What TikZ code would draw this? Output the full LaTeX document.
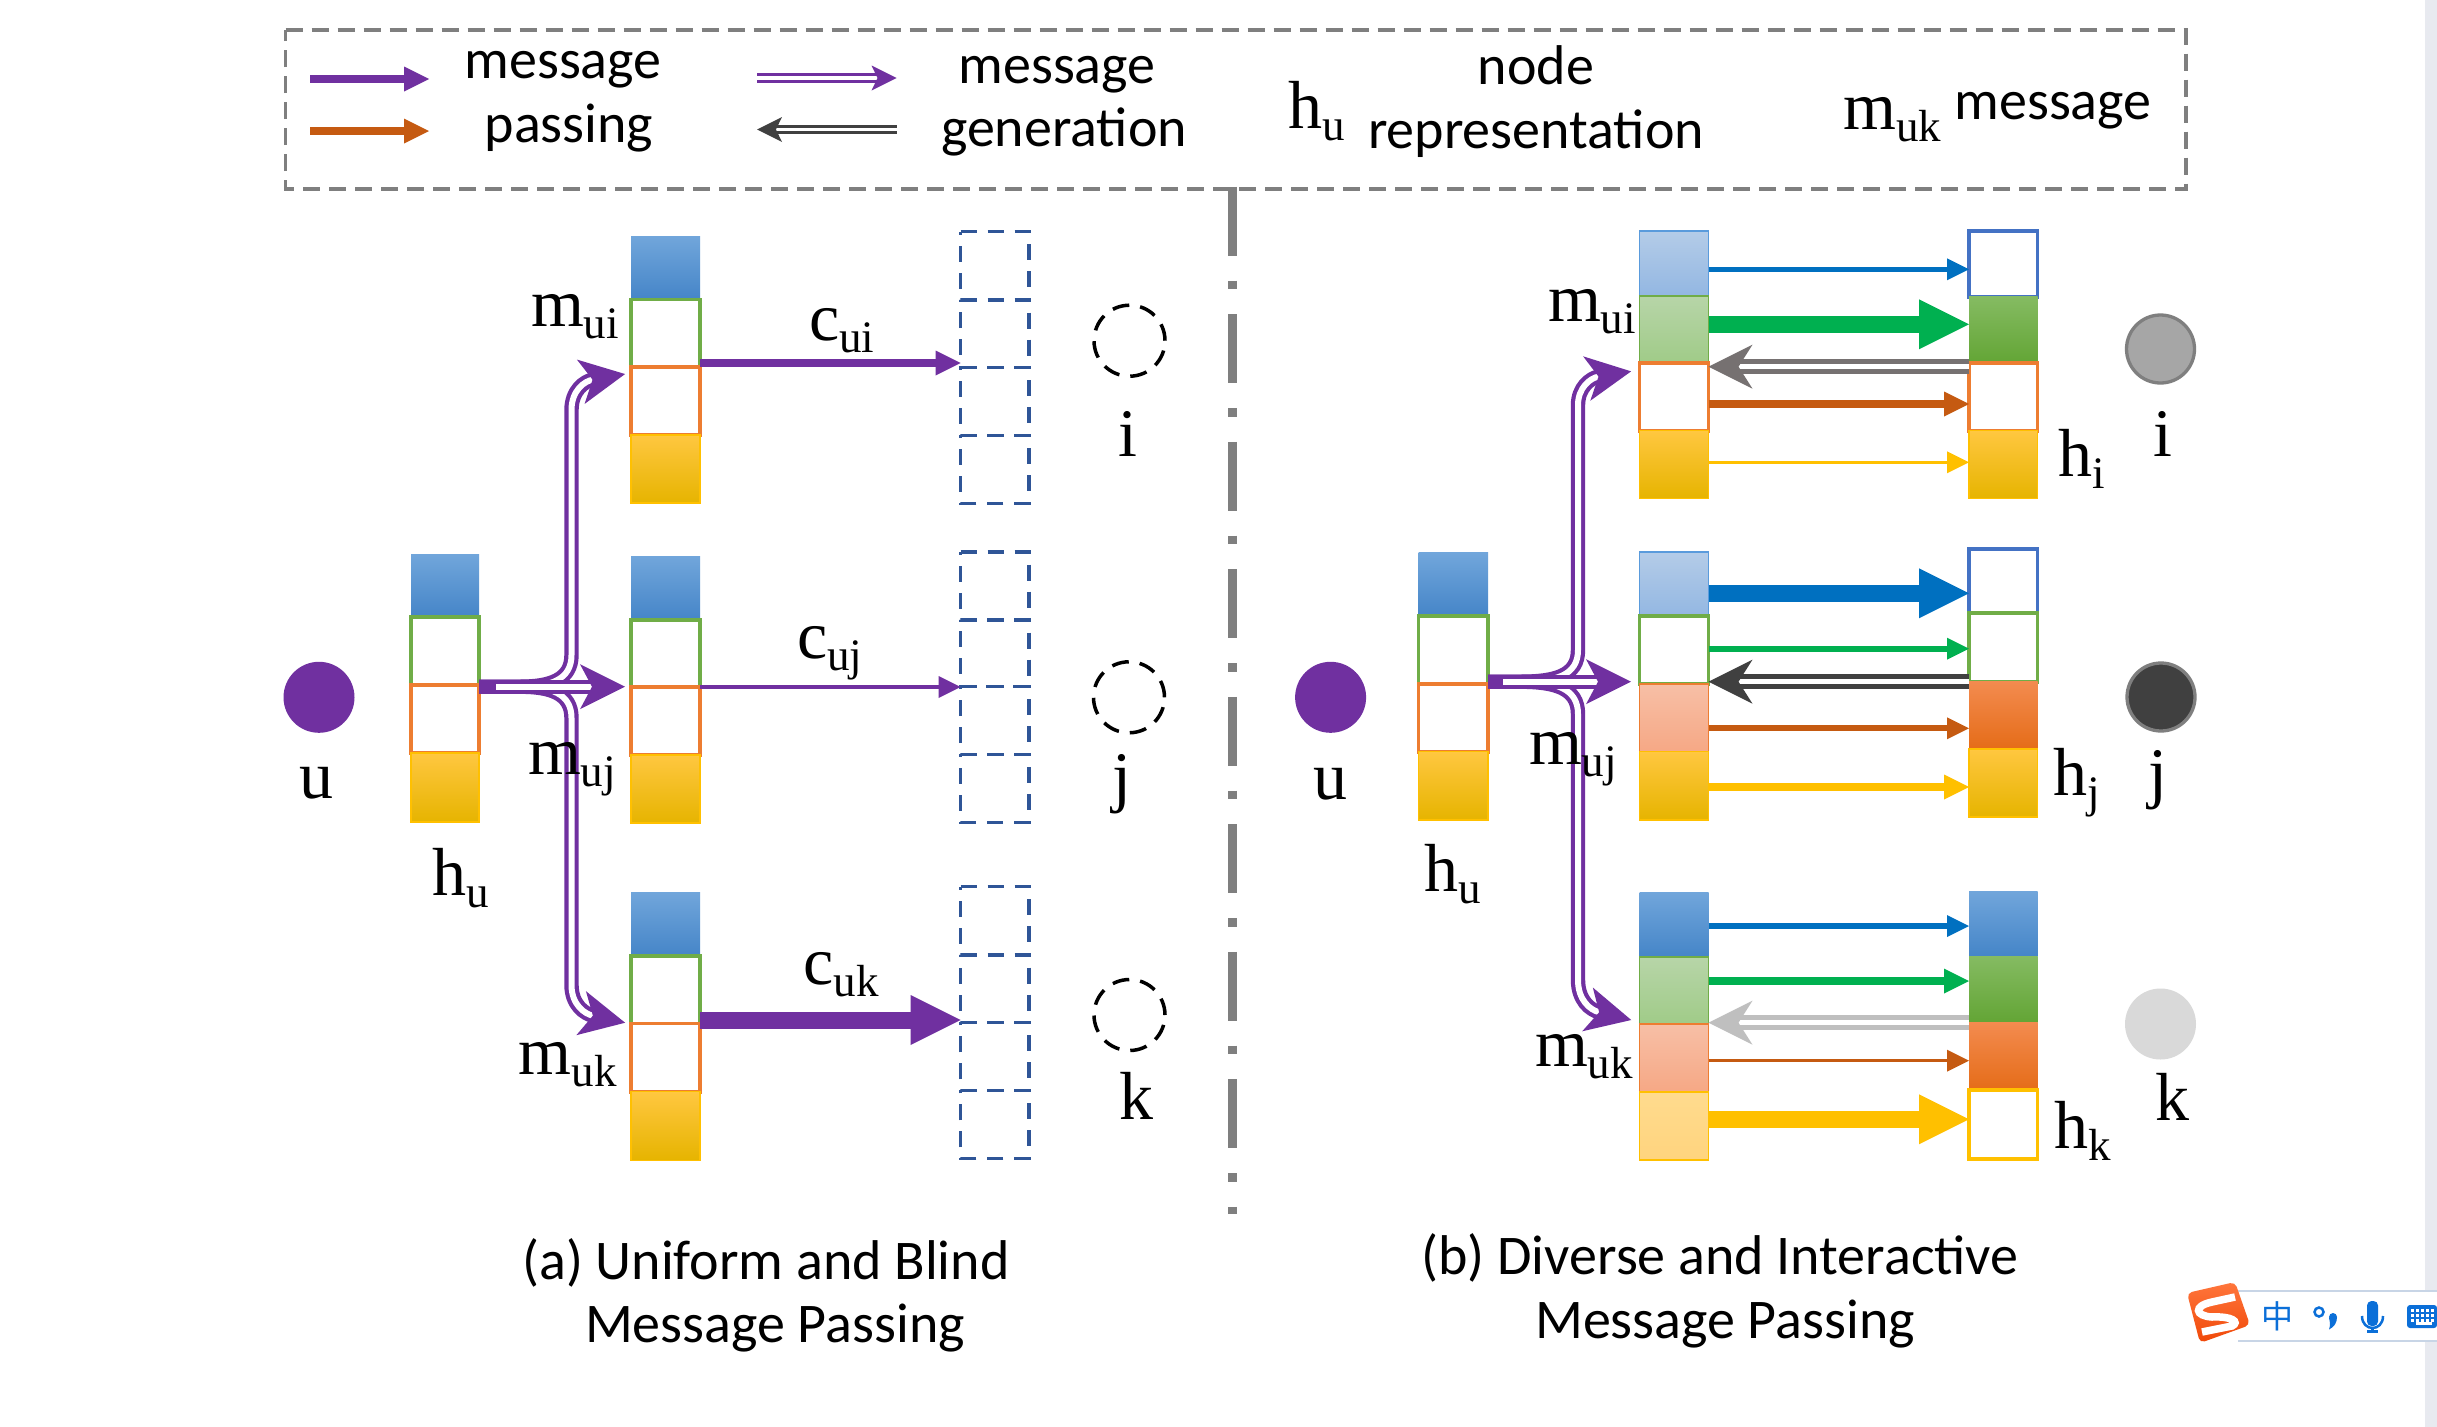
\documentclass[tikz,border=0pt]{standalone}
\usepackage{fontspec}
\setmainfont{Liberation Serif}
\newfontfamily\lgfont{Carlito}
\newfontfamily\cjkfont{Noto Sans CJK SC}
\usetikzlibrary{arrows.meta,shapes.geometric,calc}
\definecolor{cpurple}{HTML}{7030A0}
\definecolor{cgrid}{HTML}{7F7F7F}
\definecolor{cnavy}{HTML}{2F5597}
\definecolor{cgreen}{HTML}{70AD47}
\definecolor{corange}{HTML}{ED7D31}
\definecolor{cyellow}{HTML}{FFC000}
\definecolor{cbluel}{HTML}{4472C4}
\definecolor{abblue}{HTML}{0070C0}
\definecolor{abgreen}{HTML}{00B050}
\definecolor{aborange}{HTML}{C55A11}
\definecolor{abgrayA}{HTML}{767171}
\definecolor{abgrayB}{HTML}{404040}
\definecolor{abgrayC}{HTML}{BFBFBF}
\definecolor{imeblue}{HTML}{0B6FD8}
\definecolor{g1}{HTML}{71A6DB}\definecolor{g2}{HTML}{5A9BDC}\definecolor{g3}{HTML}{4585C8}
\definecolor{y1}{HTML}{FFC740}\definecolor{y2}{HTML}{FFC600}\definecolor{y3}{HTML}{E6B400}
\definecolor{lb1}{HTML}{B4CCE8}\definecolor{lb2}{HTML}{93B7E2}
\definecolor{lg1}{HTML}{B7D5A8}\definecolor{lg2}{HTML}{A0CB88}
\definecolor{dg1}{HTML}{85BB62}\definecolor{dg2}{HTML}{74B348}\definecolor{dg3}{HTML}{63A535}
\definecolor{do1}{HTML}{F38B4F}\definecolor{do2}{HTML}{F47C2A}\definecolor{do3}{HTML}{E56C18}
\definecolor{lo1}{HTML}{F7BFA6}\definecolor{lo2}{HTML}{F6A885}
\definecolor{ly1}{HTML}{FFDB8E}\definecolor{ly2}{HTML}{FFD47E}
\tikzset{
  x=1pt,y=-1pt,
  cellbox/.style={rectangle,inner sep=0pt,outer sep=0pt},
  fBlue/.style={top color=g1,middle color=g2,bottom color=g3},
  fYel/.style={top color=y1,middle color=y2,bottom color=y3,draw=cyellow,line width=1.5pt},
  fLB/.style={top color=lb1,bottom color=lb2,draw=g2,line width=1.8pt},
  fLG/.style={top color=lg1,bottom color=lg2,draw=cgreen,line width=1.8pt},
  fDG/.style={top color=dg1,middle color=dg2,bottom color=dg3},
  fDO/.style={top color=do1,middle color=do2,bottom color=do3},
  fLO/.style={top color=lo1,bottom color=lo2,draw=corange,line width=1.8pt},
  fLY/.style={top color=ly1,bottom color=ly2,draw=cyellow,line width=1.8pt},
  eG/.style={fill=white,draw=cgreen,line width=3.6pt},
  eO/.style={fill=white,draw=corange,line width=3.6pt},
  eB/.style={fill=white,draw=cbluel,line width=3.6pt},
  eY/.style={fill=white,draw=cyellow,line width=3.6pt},
  eD/.style={},
  dashcell/.style={draw=cnavy,line width=3.3pt,dash pattern=on 16pt off 11pt},
  arr/.style n args={3}{draw=#1,line width=#2pt,-{Triangle[length=#3pt,width=#3pt,line width=0pt]}},
  dblarr/.style n args={5}{draw=#1,double=white,line width=#2pt,double distance=#3pt,
     -{Stealth[length=#4pt,width=#4pt,inset=#5pt,line width=0pt]}},
  gen/.style={dblarr={cpurple}{4.2}{6}{45}{12},shorten >=6pt},
  genb/.style={dblarr={cpurple}{4.2}{6}{45}{12},shorten >=8.5pt},
  bigtext/.style={inner sep=0pt,outer sep=0pt,anchor=base west,font=\fontsize{68}{74}\selectfont},
  midtext/.style={inner sep=0pt,outer sep=0pt,anchor=base,font=\fontsize{68}{74}\selectfont},
  lgtext/.style={inner sep=0pt,outer sep=0pt,anchor=base,font=\lgfont\fontsize{56}{60}\selectfont},
  nodering/.style={circle,inner sep=0pt,outer sep=0pt,minimum size=71pt},
  emptyring/.style={nodering,draw=black,line width=3.5pt,dash pattern=on 17pt off 11pt},
}
\newcommand{\cell}[6]{\node[cellbox,#6,minimum width={#4-#2},minimum height={#5-#3}] (#1) at ({(#2+#4)/2},{(#3+#5)/2}) {};}
\def\parseY#1/#2/#3/#4/#5\relax{\def\ya{#1}\def\yb{#2}\def\yc{#3}\def\yd{#4}\def\ye{#5}}
\newcommand{\stk}[8]{\parseY#4\relax
  \cell{#1a}{#2}{\ya}{#3}{\yb}{#5}\cell{#1b}{#2}{\yb}{#3}{\yc}{#6}\cell{#1c}{#2}{\yc}{#3}{\yd}{#7}\cell{#1d}{#2}{\yd}{#3}{\ye}{#8}}
\newcommand{\dashrect}[1]{\draw[dashcell] (#1.north west) -- (#1.north east) -- (#1.south east) -- (#1.south west) -- cycle;}
\newcommand{\dstk}[4]{\stk{#1}{#2}{#3}{#4}{eD}{eD}{eD}{eD}\dashrect{#1a}\dashrect{#1b}\dashrect{#1c}\dashrect{#1d}}
\newcommand{\sublab}[6]{\node[bigtext] (#1) at (#2,#3) {#4\raisebox{#6pt}{\fontsize{45}{48}\selectfont #5}};}
\newcommand{\conn}[4]{\draw[#1] (#2.east |- 0,#4) -- (#3.west |- 0,#4);}
\newcommand{\back}[4]{\draw[#1] (#3.west |- 0,#4) -- (#2.east |- 0,#4);}
\begin{document}
\begin{tikzpicture}
\useasboundingbox (0,0) rectangle (2437,1427);
\fill[white] (0,0) rectangle (2437,1427);
% scrollbar strip
\fill[fill={rgb,255:red,232;green,234;blue,240}] (2425,0) rectangle (2437,1427);

% legend
\draw[cgrid,line width=3.3pt,dash pattern=on 17pt off 9pt] (285.5,30) -- (2186,30) -- (2186,189) -- (285.5,189) -- cycle;
\coordinate (l1s) at (310,79);\coordinate (l1e) at (429,79);
\coordinate (l2s) at (310,131);\coordinate (l2e) at (429,131);
\coordinate (l3s) at (757,78);\coordinate (l3e) at (896.5,78);
\coordinate (l4s) at (896.5,129.5);\coordinate (l4e) at (757,129.5);
\draw[arr={cpurple}{8.7}{25}] (l1s) -- (l1e);
\draw[arr={aborange}{8.7}{25}] (l2s) -- (l2e);
\draw[dblarr={cpurple}{3}{3.5}{25}{6}] (l3s) -- (l3e);
\draw[dblarr={abgrayB}{3}{3.5}{25}{6}] (l4s) -- (l4e);
\node[lgtext] (t1) at (563,78.5) {message};
\node[lgtext] (t2) at (569,142.5) {passing};
\node[lgtext] (t3) at (1057,83) {message};
\node[lgtext] (t4) at (1064,146.5) {generation};
\node[lgtext] (t5) at (1536,84.5) {node};
\node[lgtext] (t6) at (1536,148) {representation};
\node[lgtext] (t7) at (2053,119.5) {message};
\sublab{lh}{1288.7}{128}{h}{u}{-12}
\sublab{lm}{1843.5}{129}{m}{uk}{-12}

% divider
\coordinate (d1) at (1232.5,186.8);\coordinate (d2) at (1232.5,1214);
\draw[cgrid,line width=8.5pt,dash pattern=on 68.8pt off 25pt on 8.7pt off 25pt] (d1) -- (d2);

% panel a
\node[nodering,fill=cpurple] (ua) at (319,697.3) {};
\stk{Hu}{411}{479}{554/617/685/753/822}{fBlue}{eG}{eO}{fYel}
\stk{Ai}{631}{700}{236/299.3/366.7/435/503}{fBlue}{eG}{eO}{fYel}
\stk{Aj}{631}{700}{556/620/687/755/823}{fBlue}{eG}{eO}{fYel}
\stk{Ak}{631}{700}{892/956/1023.3/1091.7/1160.3}{fBlue}{eG}{eO}{fYel}
\dstk{Di}{960.7}{1029}{231.7/300/367.3/435.3/503.3}
\dstk{Dj}{960.7}{1029}{552/620/686.6/754.5/822.3}
\dstk{Dk}{960.7}{1029}{886.7/955/1022.7/1090.7/1158.7}
\node[emptyring] (ci) at (1129.5,340.7) {};
\node[emptyring] (cj) at (1129,697.3) {};
\node[emptyring] (ck) at (1129.5,1015) {};
\draw[gen] (Huc.east |- 0,686.7) -- (520,686.7) .. controls (550,686.7) and (571.5,680) .. (571.5,655) -- (571.5,410) .. controls (571.5,390) and (585,381) .. (Aic.west |- 0,373);
\draw[gen] (Huc.east |- 0,686.7) -- (520,686.7) .. controls (550,686.7) and (571.5,693) .. (571.5,718) -- (571.5,985) .. controls (571.5,1005) and (585,1014) .. (Akc.west |- 0,1024);
\draw[gen] (Huc.east |- 0,686.7) -- (Ajc.west |- 0,686.7);
\fill[cpurple] (Huc.east |- 0,679.5) rectangle (496,694);
\conn{arr={cpurple}{8.3}{25}}{Aib}{Dib}{363}
\conn{arr={cpurple}{3.5}{22}}{Ajc}{Djc}{687}
\conn{arr={cpurple}{17}{50}}{Akc}{Dkc}{1020}
\node[midtext] (tua) at (316,798) {u};
\node[midtext] (tia) at (1128,456) {i};
\node[midtext] (tja) at (1122,799) {j};
\node[bigtext] (tka) at (1119.6,1119) {k};
\sublab{hua}{432.7}{895}{h}{u}{-12}
\sublab{mui}{531}{326}{m}{ui}{-12}
\sublab{muj}{528}{774}{m}{uj}{-12}
\sublab{muk}{518.7}{1074}{m}{uk}{-12}
\sublab{cui}{809}{340}{c}{ui}{-12}
\sublab{cuj}{797}{658}{c}{uj}{-12}
\sublab{cuk}{803.6}{984}{c}{uk}{-12}

% panel b
\node[nodering,fill=cpurple] (ub) at (1330.6,697.3) {};
\stk{Hv}{1418.5}{1488}{552.7/616/684/751.7/820}{fBlue}{eG}{eO}{fYel}
\stk{Bi}{1639.5}{1708.5}{231/295.7/362.7/430.7/498.7}{fLB}{fLG}{eO}{fYel}
\stk{Ci}{1969}{2037.5}{230.7/296.7/362.7/430.7/498.7}{eB}{fDG}{eO}{fYel}
\stk{Bj}{1639.5}{1708.5}{551.7/616/684/751.7/820}{fLB}{eG}{fLO}{fYel}
\stk{Cj}{1969}{2037.5}{549/613/681.7/749/817}{eB}{eG}{fDO}{fYel}
\stk{Bk}{1639.5}{1708.5}{892/957/1024.3/1092/1160}{fBlue}{fLG}{fLO}{fLY}
\stk{Ck}{1969}{2037.5}{891/956/1022.3/1090/1158.7}{fBlue}{fDG}{fDO}{eY}
\node[nodering,fill={rgb,255:red,166;green,166;blue,166},draw=cgrid,line width=3.3pt,minimum size=68pt] (ni) at (2160.5,349) {};
\node[nodering,fill=abgrayB,draw=cgrid,line width=3.3pt,minimum size=68pt] (nj) at (2161,697) {};
\node[nodering,fill={rgb,255:red,217;green,217;blue,217}] (nk) at (2160.5,1024) {};
\draw[genb] (Hvc.east |- 0,681.7) -- (1520,681.7) .. controls (1555,681.7) and (1578,676) .. (1578,650) -- (1578,405) .. controls (1578,388) and (1590,378) .. (Bic.west |- 0,370);
\draw[genb] (Hvc.east |- 0,681.7) -- (1520,681.7) .. controls (1555,681.7) and (1578,688) .. (1578,714) -- (1578,980) .. controls (1578,1000) and (1590,1010) .. (Bkc.west |- 0,1022);
\draw[genb] (Hvc.east |- 0,681.7) -- (Bjc.west |- 0,681.7);
\fill[cpurple] (Hvc.east |- 0,674.5) rectangle (1503,689);
\conn{arr={abblue}{5}{22}}{Bia}{Cia}{269.3}
\conn{arr={abgreen}{17}{50}}{Bib}{Cib}{324.3}
\back{dblarr={abgrayA}{5}{5}{44}{14}}{Bic}{Cic}{366.7}
\conn{arr={aborange}{8.3}{25}}{Bic}{Cic}{404}
\conn{arr={cyellow}{3.5}{22}}{Bid}{Cid}{462.3}
\conn{arr={abblue}{17}{50}}{Bja}{Cja}{593.3}
\conn{arr={abgreen}{5.7}{22}}{Bjb}{Cjb}{648.7}
\back{dblarr={abgrayB}{5}{5}{44}{14}}{Bjc}{Cjc}{681.7}
\conn{arr={aborange}{6}{22}}{Bjc}{Cjc}{728.3}
\conn{arr={cyellow}{8.3}{25}}{Bjd}{Cjd}{787}
\conn{arr={abblue}{5.7}{22}}{Bka}{Cka}{926}
\conn{arr={abgreen}{8.3}{25}}{Bkb}{Ckb}{981}
\back{dblarr={abgrayC}{5}{5}{44}{14}}{Bkc}{Ckc}{1022.7}
\conn{arr={aborange}{3.5}{22}}{Bkc}{Ckc}{1060.7}
\conn{arr={cyellow}{17}{50}}{Bkd}{Ckd}{1119.3}
\node[midtext] (tub) at (1330,799) {u};
\node[midtext] (tib) at (2163,456) {i};
\node[midtext] (tjb) at (2158,795) {j};
\node[bigtext] (tkb) at (2155,1120) {k};
\sublab{huB}{1424.5}{891.7}{h}{u}{-12}
\sublab{hiB}{2058}{476.7}{h}{i}{-12}
\sublab{hjB}{2053.6}{795.7}{h}{j}{-12}
\sublab{hkB}{2054.5}{1148}{h}{k}{-12}
\sublab{muiB}{1548}{321}{m}{ui}{-12}
\sublab{mujB}{1529}{764}{m}{uj}{-12}
\sublab{mukB}{1535}{1066}{m}{uk}{-12}

% captions
\node[lgtext] (ca1) at (766,1279) {(a) Uniform and Blind};
\node[lgtext] (ca2) at (775,1342) {Message Passing};
\node[lgtext] (cb1) at (1720,1274) {(b) Diverse and Interactive};
\node[lgtext] (cb2) at (1725,1338) {Message Passing};

% input method toolbar
\fill[white] (2238,1291) rectangle (2437,1341);
\draw[fill=none,draw={rgb,255:red,200;green,213;blue,230},line width=1.5pt] (2238,1291) -- (2437,1291) (2238,1341) -- (2437,1341);
\shade[top color={rgb,255:red,255;green,118;blue,60},bottom color={rgb,255:red,240;green,72;blue,8},rounded corners=5pt]
  (2187,1293) -- (2235,1282) -- (2250,1325) -- (2200,1343) -- cycle;
\draw[white,line width=7.5pt,line cap=butt] (2235,1297) -- (2212,1302) .. controls (2193,1306) and (2195,1316) .. (2212,1317) .. controls (2232,1316) and (2240,1322) .. (2232,1326) -- (2202,1332);
\node[inner sep=0pt,text=imeblue,font=\cjkfont\fontsize{32}{34}\selectfont] (ime) at (2277,1316) {中};
\draw[imeblue,line width=2.5pt] (2319,1312) circle (4.5);
\fill[imeblue] (2333,1317) circle (4);
\fill[imeblue] (2337,1317) .. controls (2337,1323) and (2334,1327) .. (2329,1329.5) .. controls (2330.5,1325) and (2330,1322) .. (2329,1318) -- cycle;
\fill[imeblue,rounded corners=4.5pt] (2367,1301) rectangle (2378,1326);
\draw[imeblue,line width=2.5pt] (2362,1316) .. controls (2362,1332) and (2383,1332) .. (2383,1316);
\draw[imeblue,line width=2.5pt] (2372.5,1328) -- (2372.5,1331);
\fill[imeblue] (2367,1330) rectangle (2378,1332.5);
\fill[imeblue,rounded corners=3pt] (2407,1305) rectangle (2437,1328);
\foreach \yy in {1309,1314,1319}{\foreach \xx in {2411,2416,2421,2426,2431}{\fill[white] (\xx,\yy) rectangle ++(3,3);}}
\fill[white] (2416,1322) rectangle (2432,1325);
\end{tikzpicture}
\end{document}
